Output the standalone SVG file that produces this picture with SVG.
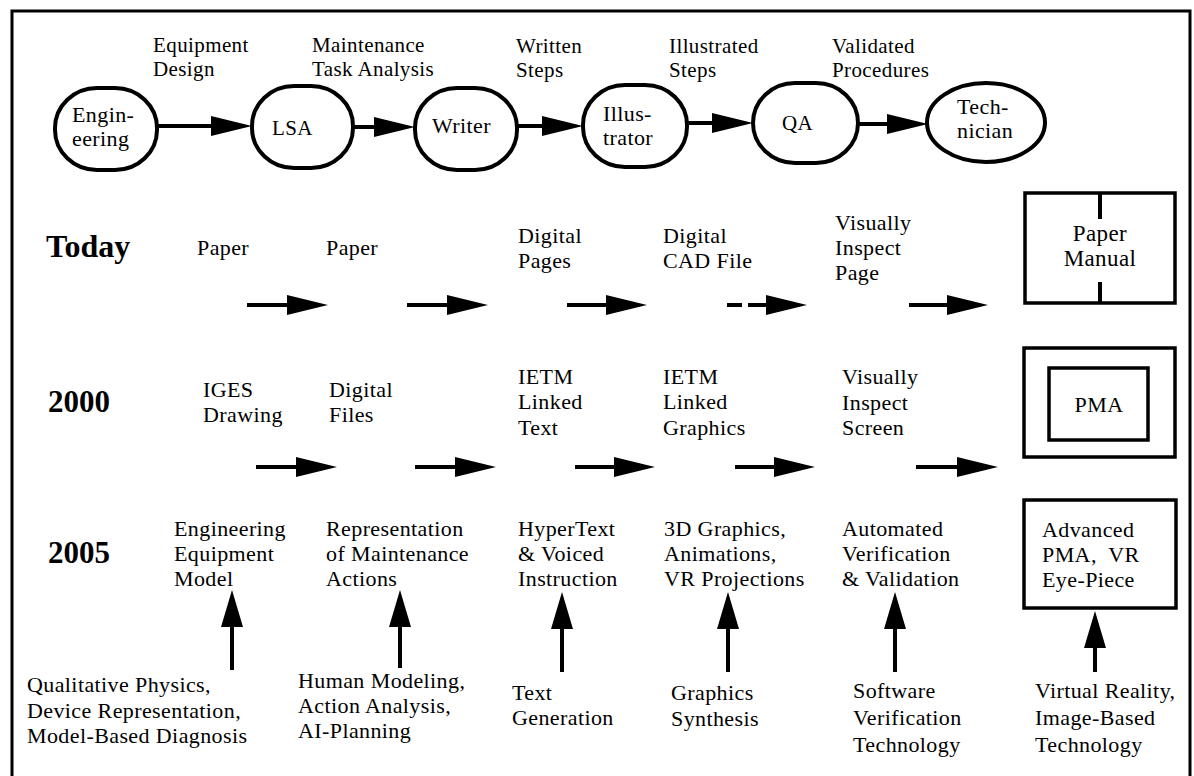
<svg xmlns="http://www.w3.org/2000/svg" xmlns:xlink="http://www.w3.org/1999/xlink" width="1194" height="776" viewBox="0 0 1194 776">
  <style>
    text { font-family: "Liberation Serif", "Times New Roman", serif; font-size: 22px; fill: #000; letter-spacing: 0.4px; }
    .yr { font-size: 31px; font-weight: bold; letter-spacing: 0; }
    .nd { font-size: 22px; }
    .lb { font-size: 21px; }
    .mid { text-anchor: middle; }
    .shape { fill: #fff; stroke: #000; stroke-width: 4; }
    .box { fill: none; stroke: #000; stroke-width: 3.5; }
    .ln { stroke: #000; stroke-width: 4; fill: none; }
    .frame { fill: none; stroke: #000; stroke-width: 3; }
  </style>
  <defs>
    <!-- filled arrowheads, tip at the origin -->
    <path id="headR" d="M0,0 L-41,-10 L-41,10 Z" fill="#000"/>
    <path id="headU" d="M0,0 L-11,37 L11,37 Z" fill="#000"/>
  </defs>

  <rect width="1194" height="776" fill="#fff"/>
  <path class="frame" d="M12,776 V11 H1190 V776"/>

  <!-- flow labels above the process chain -->
  <g id="flow-labels">
    <text class="lb" x="153" y="52">Equipment</text><text class="lb" x="153" y="76">Design</text>
    <text class="lb" x="312" y="52">Maintenance</text><text class="lb" x="312" y="76">Task Analysis</text>
    <text class="lb" x="516" y="53">Written</text><text class="lb" x="516" y="77">Steps</text>
    <text class="lb" x="669" y="53">Illustrated</text><text class="lb" x="669" y="77">Steps</text>
    <text class="lb" x="832" y="53">Validated</text><text class="lb" x="832" y="77">Procedures</text>
  </g>

  <!-- process chain nodes -->
  <g id="engineering">
    <rect class="shape" x="55" y="88" width="102" height="82" rx="42" ry="40"/>
    <text class="nd" x="72" y="122">Engin-</text>
    <text class="nd" x="72" y="146">eering</text>
  </g>
  <g id="lsa">
    <rect class="shape" x="252" y="86" width="101" height="82" rx="42" ry="40"/>
    <text class="nd" x="272" y="135" style="font-size:21px">LSA</text>
  </g>
  <g id="writer">
    <rect class="shape" x="415" y="88" width="102" height="82" rx="42" ry="40"/>
    <text class="nd" x="432" y="133">Writer</text>
  </g>
  <g id="illustrator">
    <rect class="shape" x="583" y="85" width="104" height="82" rx="42" ry="40"/>
    <text class="nd" x="603" y="121">Illus-</text>
    <text class="nd" x="603" y="145">trator</text>
  </g>
  <g id="qa">
    <rect class="shape" x="753" y="83" width="105" height="80" rx="42" ry="40"/>
    <text class="nd" x="782" y="130" style="font-size:21px">QA</text>
  </g>
  <g id="technician">
    <ellipse class="shape" cx="986" cy="122.5" rx="59" ry="39.5"/>
    <text class="nd" x="957" y="114">Tech-</text>
    <text class="nd" x="957" y="138">nician</text>
  </g>

  <!-- row headings -->
  <g id="row-headings">
    <text class="yr" x="46" y="257" style="font-size:32px">Today</text>
    <text class="yr" x="48" y="412">2000</text>
    <text class="yr" x="48" y="563">2005</text>
  </g>

  <!-- Today row -->
  <g id="today-items">
    <text x="197" y="255">Paper</text>
    <text x="326" y="255">Paper</text>
    <text x="518" y="243">Digital</text><text x="518" y="268">Pages</text>
    <text x="663" y="243">Digital</text><text x="663" y="268">CAD File</text>
    <text x="835" y="230">Visually</text><text x="835" y="255">Inspect</text><text x="835" y="280">Page</text>
  </g>
  <g id="paper-manual">
    <rect class="box" x="1025" y="193" width="150" height="110"/>
    <line class="ln" x1="1100" y1="193" x2="1100" y2="219" stroke-width="3"/>
    <line class="ln" x1="1100" y1="282" x2="1100" y2="303" stroke-width="3"/>
    <text class="mid" x="1100" y="241" style="font-size:23px">Paper</text>
    <text class="mid" x="1100" y="266" style="font-size:23px">Manual</text>
  </g>

  <!-- 2000 row -->
  <g id="y2000-items">
    <text x="203" y="397">IGES</text><text x="203" y="422">Drawing</text>
    <text x="329" y="397">Digital</text><text x="329" y="422">Files</text>
    <text x="518" y="384">IETM</text><text x="518" y="409">Linked</text><text x="518" y="435">Text</text>
    <text x="663" y="384">IETM</text><text x="663" y="409">Linked</text><text x="663" y="435">Graphics</text>
    <text x="842" y="384">Visually</text><text x="842" y="410">Inspect</text><text x="842" y="435">Screen</text>
  </g>
  <g id="pma">
    <rect class="box" x="1024" y="348" width="151" height="109"/>
    <rect class="box" x="1049" y="368" width="99" height="72"/>
    <text class="mid" x="1099" y="412">PMA</text>
  </g>

  <!-- 2005 row -->
  <g id="y2005-items">
    <text x="174" y="536">Engineering</text><text x="174" y="561">Equipment</text><text x="174" y="586">Model</text>
    <text x="326" y="536">Representation</text><text x="326" y="561">of Maintenance</text><text x="326" y="586">Actions</text>
    <text x="518" y="536">HyperText</text><text x="518" y="561">&amp; Voiced</text><text x="518" y="586">Instruction</text>
    <text x="664" y="536">3D Graphics,</text><text x="664" y="561">Animations,</text><text x="664" y="586">VR Projections</text>
    <text x="842" y="536">Automated</text><text x="842" y="561">Verification</text><text x="842" y="586">&amp; Validation</text>
  </g>
  <g id="advanced-pma">
    <rect class="box" x="1024" y="500" width="152" height="108"/>
    <text x="1042" y="537">Advanced</text>
    <text x="1042" y="562" xml:space="preserve">PMA,  VR</text>
    <text x="1042" y="587">Eye-Piece</text>
  </g>

  <!-- enabling technologies -->
  <g id="technologies">
    <text x="27" y="692">Qualitative Physics,</text><text x="27" y="718">Device Representation,</text><text x="27" y="743">Model-Based Diagnosis</text>
    <text x="298" y="688">Human Modeling,</text><text x="298" y="713">Action Analysis,</text><text x="298" y="738">AI-Planning</text>
    <text x="512" y="700">Text</text><text x="512" y="725">Generation</text>
    <text x="671" y="700">Graphics</text><text x="671" y="726">Synthesis</text>
    <text x="853" y="698">Software</text><text x="853" y="725">Verification</text><text x="853" y="752">Technology</text>
    <text x="1035" y="698">Virtual Reality,</text><text x="1035" y="725">Image-Based</text><text x="1035" y="752">Technology</text>
  </g>

  <!-- connectors -->
  <g id="connectors">
    <!-- process chain -->
    <line class="ln" x1="157" y1="126" x2="215" y2="126"/><use xlink:href="#headR" x="252" y="126"/>
    <line class="ln" x1="353" y1="127" x2="378" y2="127"/><use xlink:href="#headR" x="415" y="127"/>
    <line class="ln" x1="517" y1="126" x2="546" y2="126"/><use xlink:href="#headR" x="583" y="126"/>
    <line class="ln" x1="687" y1="123" x2="716" y2="123"/><use xlink:href="#headR" x="753" y="123"/>
    <line class="ln" x1="858" y1="124" x2="890" y2="124"/><use xlink:href="#headR" x="928" y="124"/>

    <!-- Today row -->
    <line class="ln" x1="247" y1="305" x2="290" y2="305"/><use xlink:href="#headR" x="328" y="305"/>
    <line class="ln" x1="407" y1="305" x2="450" y2="305"/><use xlink:href="#headR" x="488" y="305"/>
    <line class="ln" x1="567" y1="305" x2="610" y2="305"/><use xlink:href="#headR" x="647" y="305"/>
    <line class="ln" x1="727" y1="305" x2="742" y2="305"/>
    <line class="ln" x1="748" y1="305" x2="770" y2="305"/><use xlink:href="#headR" x="807" y="305"/>
    <line class="ln" x1="909" y1="305" x2="950" y2="305"/><use xlink:href="#headR" x="988" y="305"/>

    <!-- 2000 row -->
    <line class="ln" x1="256" y1="467" x2="300" y2="467"/><use xlink:href="#headR" x="337" y="467"/>
    <line class="ln" x1="415" y1="467" x2="458" y2="467"/><use xlink:href="#headR" x="496" y="467"/>
    <line class="ln" x1="575" y1="467" x2="618" y2="467"/><use xlink:href="#headR" x="655" y="467"/>
    <line class="ln" x1="735" y1="467" x2="778" y2="467"/><use xlink:href="#headR" x="815" y="467"/>
    <line class="ln" x1="916" y1="467" x2="960" y2="467"/><use xlink:href="#headR" x="998" y="467"/>

    <!-- technology inputs -->
    <line class="ln" x1="232" y1="670" x2="232" y2="620"/><use xlink:href="#headU" x="232" y="590"/>
    <line class="ln" x1="400" y1="668" x2="400" y2="620"/><use xlink:href="#headU" x="400" y="590"/>
    <line class="ln" x1="562" y1="672" x2="562" y2="622"/><use xlink:href="#headU" x="562" y="592"/>
    <line class="ln" x1="728" y1="672" x2="728" y2="622"/><use xlink:href="#headU" x="728" y="592"/>
    <line class="ln" x1="895" y1="672" x2="895" y2="622"/><use xlink:href="#headU" x="895" y="592"/>
    <line class="ln" x1="1095" y1="672" x2="1095" y2="642"/><use xlink:href="#headU" x="1095" y="611"/>
  </g>
</svg>
